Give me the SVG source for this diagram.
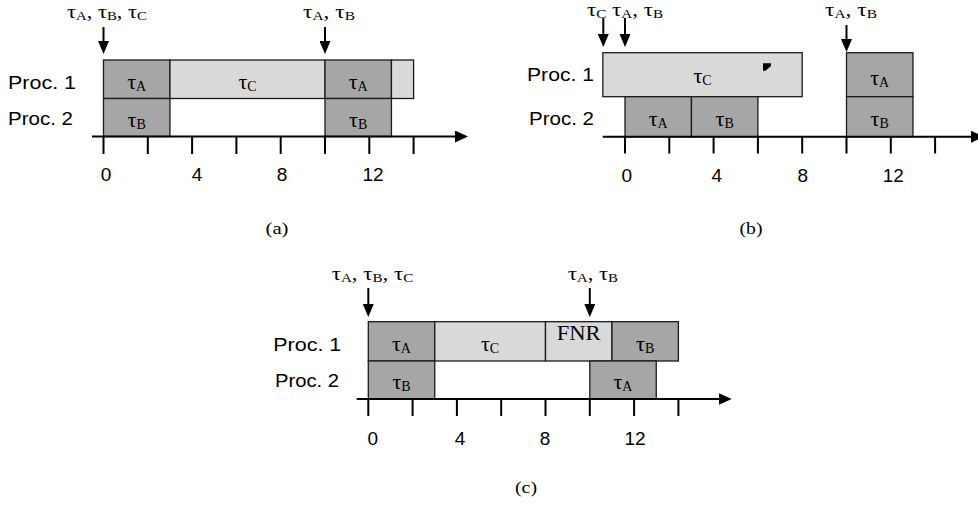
<svg xmlns="http://www.w3.org/2000/svg" width="978" height="505" viewBox="0 0 978 505">
<style>
.dk{fill:#a6a6a6;stroke:#1a1a1a;stroke-width:1.3}
.lt{fill:#d9d9d9;stroke:#1a1a1a;stroke-width:1.3}
.ax{stroke:#000;stroke-width:2;fill:none}
.tk{stroke:#000;stroke-width:2}
.sans{font-family:"Liberation Sans",Arial,sans-serif;font-size:19px;fill:#000}
.ser{font-family:"Liberation Serif","Times New Roman",serif;font-size:22px;fill:#000}
.tl{font-family:"Liberation Serif","Times New Roman",serif;font-size:19px;fill:#000}
.sub{font-size:14px}
.tl .sub{font-size:12.5px}
.cap{font-family:"Liberation Serif","Times New Roman",serif;font-size:17px;fill:#000}
.mid{text-anchor:middle}
</style>
<defs>
<marker id="ah" viewBox="0 0 13 11" refX="5" refY="5.5" markerWidth="13" markerHeight="11" markerUnits="userSpaceOnUse" orient="auto">
<path d="M0,0 L13,5.5 L0,11 Z" fill="#000"/>
</marker>
<marker id="ah2" viewBox="0 0 13 12" refX="5" refY="6" markerWidth="13" markerHeight="12" markerUnits="userSpaceOnUse" orient="auto">
<path d="M0,0 L13,6 L0,12 Z" fill="#000"/>
</marker>
</defs>
<rect width="978" height="505" fill="#fff"/>

<!-- ===== Panel (a) ===== -->
<g id="a-boxes">
<g id="a-p1-tA"><rect class="dk" x="103.5" y="60" width="66.45" height="38.5"/><text class="ser mid" x="136.7" y="89">τ<tspan class="sub" dy="2">A</tspan></text></g>
<g id="a-p1-tC"><rect class="lt" x="169.95" y="60" width="155.05" height="38.5"/><text class="ser mid" x="247.5" y="89">τ<tspan class="sub" dy="2">C</tspan></text></g>
<g id="a-p1-tA2"><rect class="dk" x="325" y="60" width="66.45" height="38.5"/><text class="ser mid" x="358.2" y="89">τ<tspan class="sub" dy="2">A</tspan></text></g>
<g id="a-p1-tC2"><rect class="lt" x="391.45" y="60" width="22.15" height="38.5"/></g>
<g id="a-p2-tB"><rect class="dk" x="103.5" y="98.5" width="66.45" height="38"/><text class="ser mid" x="136.7" y="127">τ<tspan class="sub" dy="2">B</tspan></text></g>
<g id="a-p2-tB2"><rect class="dk" x="325" y="98.5" width="66.45" height="38"/><text class="ser mid" x="358.2" y="127">τ<tspan class="sub" dy="2">B</tspan></text></g>
</g>
<g id="a-labels">
<text class="sans" x="8" y="89" textLength="68" lengthAdjust="spacingAndGlyphs">Proc. 1</text>
<text class="sans" x="8" y="124.5" textLength="65" lengthAdjust="spacingAndGlyphs">Proc. 2</text>
<text class="sans mid" x="106" y="181">0</text>
<text class="sans mid" x="197" y="181">4</text>
<text class="sans mid" x="282" y="181">8</text>
<text class="sans mid" x="373" y="181">12</text>
<text class="tl" x="67" y="17.5" textLength="80" lengthAdjust="spacingAndGlyphs">τ<tspan class="sub" dy="2">A</tspan><tspan dy="-2">, τ</tspan><tspan class="sub" dy="2">B</tspan><tspan dy="-2">, τ</tspan><tspan class="sub" dy="2">C</tspan></text>
<text class="tl" x="303" y="17.5" textLength="52" lengthAdjust="spacingAndGlyphs">τ<tspan class="sub" dy="2">A</tspan><tspan dy="-2">, τ</tspan><tspan class="sub" dy="2">B</tspan></text>
<text class="cap mid" x="277" y="234" textLength="23" lengthAdjust="spacingAndGlyphs">(a)</text>
</g>

<!-- ===== Panel (b) ===== -->
<g id="b-boxes">
<g id="b-p1-tC"><rect class="lt" x="602.85" y="52.7" width="199.35" height="44"/><text class="ser mid" x="702.5" y="83.3">τ<tspan class="sub" dy="2">C</tspan></text>
<polygon points="763,63.3 771,63.3 771,66 765.5,70.7 763,70.7" fill="#000"/></g>
<g id="b-p1-tA"><rect class="dk" x="846.5" y="52.7" width="66.45" height="44"/><text class="ser mid" x="879.7" y="84.5">τ<tspan class="sub" dy="2">A</tspan></text></g>
<g id="b-p2-tA"><rect class="dk" x="625" y="96.7" width="66.45" height="40"/><text class="ser mid" x="658.2" y="126">τ<tspan class="sub" dy="2">A</tspan></text></g>
<g id="b-p2-tB"><rect class="dk" x="691.45" y="96.7" width="66.45" height="40"/><text class="ser mid" x="724.7" y="126">τ<tspan class="sub" dy="2">B</tspan></text></g>
<g id="b-p2-tB2"><rect class="dk" x="846.5" y="96.7" width="66.45" height="40"/><text class="ser mid" x="879.7" y="126">τ<tspan class="sub" dy="2">B</tspan></text></g>
</g>
<g id="b-labels">
<text class="sans" x="527" y="81" textLength="67" lengthAdjust="spacingAndGlyphs">Proc. 1</text>
<text class="sans" x="529" y="124.5" textLength="65" lengthAdjust="spacingAndGlyphs">Proc. 2</text>
<text class="sans mid" x="626.7" y="181.5">0</text>
<text class="sans mid" x="716.7" y="181.5">4</text>
<text class="sans mid" x="802.7" y="181.5">8</text>
<text class="sans mid" x="893.3" y="181.5">12</text>
<text class="tl" x="587" y="16" textLength="76" lengthAdjust="spacingAndGlyphs">τ<tspan class="sub" dy="2">C</tspan><tspan dy="-2"> τ</tspan><tspan class="sub" dy="2">A</tspan><tspan dy="-2">, τ</tspan><tspan class="sub" dy="2">B</tspan></text>
<text class="tl" x="825" y="16" textLength="52" lengthAdjust="spacingAndGlyphs">τ<tspan class="sub" dy="2">A</tspan><tspan dy="-2">, τ</tspan><tspan class="sub" dy="2">B</tspan></text>
<text class="cap mid" x="751" y="234" textLength="23" lengthAdjust="spacingAndGlyphs">(b)</text>
</g>

<!-- ===== Panel (c) ===== -->
<g id="c-boxes">
<g id="c-p1-tA"><rect class="dk" x="368.3" y="321.7" width="66.45" height="39.3"/><text class="ser mid" x="401.5" y="351">τ<tspan class="sub" dy="2">A</tspan></text></g>
<g id="c-p1-tC"><rect class="lt" x="434.75" y="321.7" width="110.75" height="39.3"/><text class="ser mid" x="490.1" y="351">τ<tspan class="sub" dy="2">C</tspan></text></g>
<g id="c-p1-FNR"><rect class="lt" x="545.5" y="321.7" width="66.45" height="39.3"/><text class="ser mid" x="578.7" y="340" style="font-size:20px" textLength="44" lengthAdjust="spacingAndGlyphs">FNR</text></g>
<g id="c-p1-tB"><rect class="dk" x="611.95" y="321.7" width="66.45" height="39.3"/><text class="ser mid" x="645.2" y="351">τ<tspan class="sub" dy="2">B</tspan></text></g>
<g id="c-p2-tB"><rect class="dk" x="368.3" y="361" width="66.45" height="38"/><text class="ser mid" x="401.5" y="389">τ<tspan class="sub" dy="2">B</tspan></text></g>
<g id="c-p2-tA"><rect class="dk" x="589.8" y="361" width="66.45" height="38"/><text class="ser mid" x="623" y="389">τ<tspan class="sub" dy="2">A</tspan></text></g>
</g>
<g id="c-labels">
<text class="sans" x="273.3" y="351" textLength="68" lengthAdjust="spacingAndGlyphs">Proc. 1</text>
<text class="sans" x="275" y="387" textLength="64" lengthAdjust="spacingAndGlyphs">Proc. 2</text>
<text class="sans mid" x="372.7" y="445">0</text>
<text class="sans mid" x="460" y="445">4</text>
<text class="sans mid" x="545" y="445">8</text>
<text class="sans mid" x="635" y="445">12</text>
<text class="tl" x="331.7" y="280" textLength="81.6" lengthAdjust="spacingAndGlyphs">τ<tspan class="sub" dy="2">A</tspan><tspan dy="-2">, τ</tspan><tspan class="sub" dy="2">B</tspan><tspan dy="-2">, τ</tspan><tspan class="sub" dy="2">C</tspan></text>
<text class="tl" x="568" y="280" textLength="50" lengthAdjust="spacingAndGlyphs">τ<tspan class="sub" dy="2">A</tspan><tspan dy="-2">, τ</tspan><tspan class="sub" dy="2">B</tspan></text>
<text class="cap mid" x="526" y="493" textLength="22" lengthAdjust="spacingAndGlyphs">(c)</text>
</g>

<!-- ===== Connectors: axes, ticks, release arrows ===== -->
<g id="connectors">
<line class="ax" x1="92" y1="136.5" x2="460" y2="136.5" marker-end="url(#ah2)"/>
<path class="tk" d="M103.5,136.5V154M147.8,136.5V154M192.1,136.5V154M236.4,136.5V154M280.7,136.5V154M325,136.5V154M369.3,136.5V154M413.6,136.5V154"/>
<line class="ax" x1="103.5" y1="27" x2="103.5" y2="46" marker-end="url(#ah)"/>
<line class="ax" x1="325" y1="27" x2="325" y2="46" marker-end="url(#ah)"/>

<line class="ax" x1="602.7" y1="136.7" x2="976" y2="136.7" marker-end="url(#ah2)"/>
<path class="tk" d="M625,136.7V153.5M669.3,136.7V153.5M713.6,136.7V153.5M757.9,136.7V153.5M802.2,136.7V153.5M846.5,136.7V153.5M890.8,136.7V153.5M935.1,136.7V153.5"/>
<line class="ax" x1="603.3" y1="18" x2="603.3" y2="39" marker-end="url(#ah)"/>
<line class="ax" x1="625" y1="18" x2="625" y2="39" marker-end="url(#ah)"/>
<line class="ax" x1="846.5" y1="25" x2="846.5" y2="44" marker-end="url(#ah)"/>

<line class="ax" x1="356.7" y1="399" x2="723.7" y2="399" marker-end="url(#ah2)"/>
<path class="tk" d="M368.3,399V416M412.6,399V416M456.9,399V416M501.2,399V416M545.5,399V416M589.8,399V416M634.1,399V416M678.4,399V416"/>
<line class="ax" x1="368.3" y1="288" x2="368.3" y2="309" marker-end="url(#ah)"/>
<line class="ax" x1="589.8" y1="288" x2="589.8" y2="309" marker-end="url(#ah)"/>
</g>
</svg>
